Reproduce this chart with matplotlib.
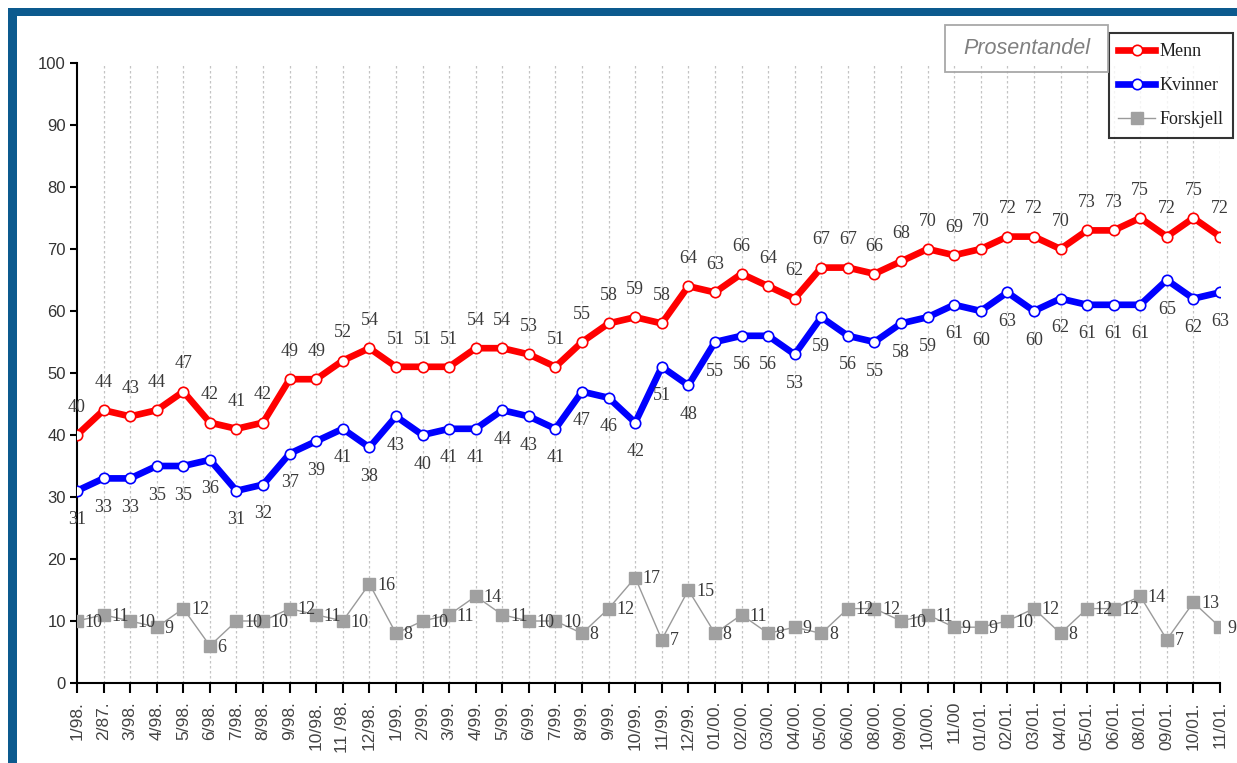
import matplotlib
matplotlib.use("Agg")
import matplotlib.pyplot as plt
from matplotlib.patches import Rectangle
from matplotlib.lines import Line2D

categories = ["1/98.", "2/87.", "3/98.", "4/98.", "5/98.", "6/98.", "7/98.", "8/98.", "9/98.", "10/98.",
              "11 /98.", "12/98.", "1/99.", "2/99.", "3/99.", "4/99.", "5/99.", "6/99.", "7/99.", "8/99.",
              "9/99.", "10/99.", "11/99.", "12/99.", "01/00.", "02/00.", "03/00.", "04/00.", "05/00.", "06/00.",
              "08/00.", "09/00.", "10/00.", "11/00", "01/01.", "02/01.", "03/01.", "04/01.", "05/01.", "06/01.",
              "08/01.", "09/01.", "10/01.", "11/01."]
menn = [40, 44, 43, 44, 47, 42, 41, 42, 49, 49, 52, 54,
        51, 51, 51, 54, 54, 53, 51, 55, 58, 59, 58, 64,
        63, 66, 64, 62, 67, 67, 66, 68, 70, 69,
        70, 72, 72, 70, 73, 73, 75, 72, 75, 72]
kvinner = [31, 33, 33, 35, 35, 36, 31, 32, 37, 39, 41, 38,
           43, 40, 41, 41, 44, 43, 41, 47, 46, 42, 51, 48,
           55, 56, 56, 53, 59, 56, 55, 58, 59, 61,
           60, 63, 60, 62, 61, 61, 61, 65, 62, 63]
forskjell = [10, 11, 10, 9, 12, 6, 10, 10, 12, 11, 10, 16,
             8, 10, 11, 14, 11, 10, 10, 8, 12, 17, 7, 15,
             8, 11, 8, 9, 8, 12, 12, 10, 11, 9,
             9, 10, 12, 8, 12, 12, 14, 7, 13, 9]
yticks = [0, 10, 20, 30, 40, 50, 60, 70, 80, 90, 100]

W, H = 1237, 763
fig = plt.figure(figsize=(W / 100, H / 100), dpi=100)
fig.patch.set_facecolor("white")

def fx(px):
    return px / W

def fy(py):
    return 1 - py / H

# blue frame (left and top bands)
border = "#0C5A8E"
fig.add_artist(Rectangle((fx(8), 0), fx(17) - fx(8), fy(8), transform=fig.transFigure,
                         facecolor=border, edgecolor="none", zorder=0))
fig.add_artist(Rectangle((fx(8), fy(16)), 1 - fx(8), fy(8) - fy(16), transform=fig.transFigure,
                         facecolor=border, edgecolor="none", zorder=0))

ax = fig.add_axes([fx(77), fy(683), fx(1220) - fx(77), fy(63) - fy(683)])
x = list(range(len(categories)))

serif = ["Liberation Serif", "DejaVu Serif"]
sans = ["Liberation Sans", "DejaVu Sans"]

# grid
for xi in x[1:]:
    ax.axvline(xi, color="#c4c4c4", lw=0.9, ls=(0, (2, 2)), zorder=1)

LW = 4.8
MS = 7.5
ax.plot(x, menn, color="#FF0000", lw=LW, marker="o", ms=MS, mfc="white", mec="#FF0000",
        mew=1.2, zorder=4, solid_joinstyle="round", label="Menn")
ax.plot(x, kvinner, color="#0000FF", lw=LW, marker="o", ms=MS, mfc="white", mec="#0000FF",
        mew=1.2, zorder=4, solid_joinstyle="round", label="Kvinner")
ax.plot(x, forskjell, color="#9a9a9a", lw=1.0, marker="s", ms=9, mfc="#a0a0a0", mec="#a0a0a0",
        zorder=3, label="Forskjell")

lab_col = "#3a3a3a"
FS = 13
for xi, v in zip(x, menn):
    ax.annotate(str(v), (xi, v), xytext=(0, 20), textcoords="offset points", ha="center",
                va="center", fontsize=FS, family=serif, color=lab_col, zorder=5)
for xi, v in zip(x, kvinner):
    ax.annotate(str(v), (xi, v), xytext=(0, -21), textcoords="offset points", ha="center",
                va="center", fontsize=FS, family=serif, color=lab_col, zorder=5)
for xi, v in zip(x, forskjell):
    ax.annotate(str(v), (xi, v), xytext=(5.5, -1), textcoords="offset points", ha="left",
                va="center", fontsize=FS, family=serif, color=lab_col, zorder=5)

ax.set_xlim(0, len(categories) - 1)
ax.set_ylim(0, 100)
ax.set_yticks(yticks)
ax.set_yticklabels([str(t) for t in yticks], family=sans, fontsize=12, color="#333333")
ax.set_xticks(x)
ax.set_xticklabels(categories, rotation=90, family=sans, fontsize=12.5, color="#444444")
ax.spines["top"].set_visible(False)
ax.spines["right"].set_visible(False)
ax.spines["left"].set_linewidth(1.5)
ax.spines["bottom"].set_linewidth(1.5)
ax.tick_params(axis="y", direction="out", length=5, width=1.5, pad=3)
ax.tick_params(axis="x", direction="out", length=7, width=1.5, pad=6)
ax.set_facecolor("none")

# title box
fig.add_artist(Rectangle((fx(945), fy(72)), fx(1108) - fx(945), fy(25) - fy(72),
                         transform=fig.transFigure, facecolor="none", edgecolor="#a8a8a8",
                         lw=1.3, zorder=6))
fig.text(fx(1027), fy(49), "Prosentandel", ha="center", va="center", fontsize=15.5,
         style="italic", family=sans, color="#808080", zorder=7)

handles = [
    Line2D([], [], color="#FF0000", lw=LW, marker="o", ms=MS, mfc="white", mec="#FF0000", mew=1.2),
    Line2D([], [], color="#0000FF", lw=LW, marker="o", ms=MS, mfc="white", mec="#0000FF", mew=1.2),
    Line2D([], [], color="#9a9a9a", lw=1.0, marker="s", ms=9, mfc="#a0a0a0", mec="#a0a0a0"),
]
leg = fig.legend(handles, ["Menn", "Kvinner", "Forskjell"], loc="upper right",
                 bbox_to_anchor=(fx(1233), fy(33)), bbox_transform=fig.transFigure,
                 prop={"family": serif, "size": 13}, frameon=True, fancybox=False,
                 handlelength=2.0, handletextpad=0.25, labelspacing=0.95, borderpad=0.55,
                 borderaxespad=0)
leg.get_frame().set_edgecolor("black")
leg.get_frame().set_linewidth(1.5)
for t in leg.get_texts():
    t.set_color("#222222")

fig.savefig("out.png", dpi=100)
